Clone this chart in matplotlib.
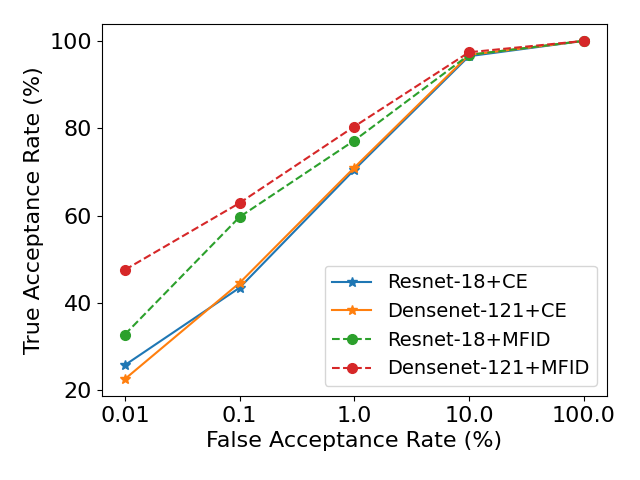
import matplotlib
matplotlib.use("Agg")
import matplotlib.pyplot as plt

far_labels = ["0.01", "0.1", "1.0", "10.0", "100.0"]
resnet_ce = [25.8, 43.5, 70.5, 96.5, 100.0]
densenet_ce = [22.6, 44.6, 71.0, 96.8, 100.0]
resnet_mfid = [32.8, 59.7, 77.2, 96.8, 100.0]
densenet_mfid = [47.6, 62.9, 80.4, 97.4, 100.0]

plt.rcParams['font.size'] = 16
fig, ax = plt.subplots(figsize=(6.4, 4.8), dpi=100)
x = list(range(len(far_labels)))
ax.plot(x, resnet_ce, '-*', color='tab:blue', label='Resnet-18+CE', markersize=7)
ax.plot(x, densenet_ce, '-*', color='tab:orange', label='Densenet-121+CE', markersize=7)
ax.plot(x, resnet_mfid, '--o', color='tab:green', label='Resnet-18+MFID', markersize=7)
ax.plot(x, densenet_mfid, '--o', color='tab:red', label='Densenet-121+MFID', markersize=7)
ax.set_xticks(x)
ax.set_xticklabels(far_labels)
ax.set_yticks([20, 40, 60, 80, 100])
ax.set_xlabel('False Acceptance Rate (%)')
ax.set_ylabel('True Acceptance Rate (%)')
ax.legend(loc='lower right', fontsize=14)
fig.tight_layout()
fig.subplots_adjust(bottom=0.175)
fig.savefig('out.png')
